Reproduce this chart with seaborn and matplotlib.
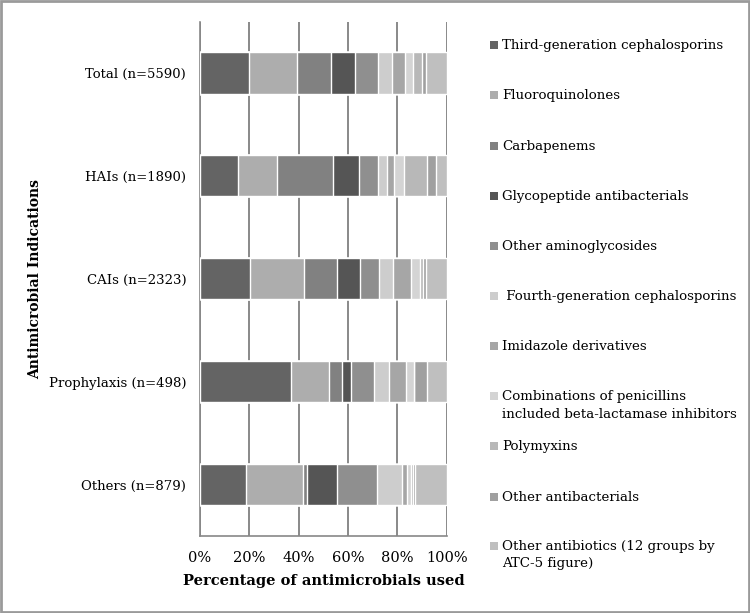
import numpy as np
import pandas as pd
import seaborn as sns
import matplotlib.pyplot as plt
from matplotlib.patches import Rectangle

# indications, top to bottom
groups = ['Total (n=5590)', 'HAIs (n=1890)', 'CAIs (n=2323)',
          'Prophylaxis (n=498)', 'Others (n=879)']

# percentages per antimicrobial class
third_gen = [19.9, 15.2, 20.4, 36.9, 18.6]
fluoroquin = [19.5, 16.0, 21.7, 15.3, 23.0]
carbapenems = [13.8, 22.7, 13.5, 5.5, 1.8]
glycopeptide = [9.8, 10.4, 9.1, 3.6, 12.1]
aminoglyc = [9.2, 7.9, 7.9, 9.2, 16.3]
fourth_gen = [5.7, 3.4, 5.7, 6.0, 10.2]
imidazole = [5.1, 3.1, 7.3, 7.2, 2.0]
combos = [3.4, 3.9, 3.5, 3.2, 1.4]
polymyxins = [3.4, 9.5, 1.2, 0.0, 0.9]
other_antibact = [2.0, 3.4, 1.3, 5.2, 0.7]
other_antibiot = [8.2, 4.5, 8.4, 7.9, 13.0]

labels = ['Third-generation cephalosporins', 'Fluoroquinolones', 'Carbapenems',
          'Glycopeptide antibacterials', 'Other aminoglycosides',
          ' Fourth-generation cephalosporins', 'Imidazole derivatives',
          'Combinations of penicillins\nincluded beta-lactamase inhibitors',
          'Polymyxins', 'Other antibacterials',
          'Other antibiotics (12 groups by\nATC-5 figure)']
colors = ['#646464', '#adadad', '#818181', '#555555', '#8f8f8f', '#cdcdcd',
          '#a6a6a6', '#d4d4d4', '#b8b8b8', '#a0a0a0', '#bfbfbf']

series = [third_gen, fluoroquin, carbapenems, glycopeptide, aminoglyc, fourth_gen,
          imidazole, combos, polymyxins, other_antibact, other_antibiot]

df = pd.DataFrame(np.array(series).T, columns=labels)
df.insert(0, 'group', groups)
cum = df[labels].cumsum(axis=1)

sns.set_theme(style='white')
plt.rcParams['font.family'] = ['DejaVu Serif']
plt.rcParams.update({'text.color': 'black', 'axes.labelcolor': 'black',
                     'xtick.color': 'black', 'ytick.color': 'black'})

fig = plt.figure(figsize=(7.5, 6.13), dpi=100)
ax = fig.add_axes([0.2667, 0.1256, 0.3289, 0.8393])

# stacked bars: draw cumulative totals from the widest down
for lab, col in reversed(list(zip(labels, colors))):
    sns.barplot(x=cum[lab], y=df['group'], color=col, orient='h', width=0.4,
                edgecolor='white', linewidth=1, errorbar=None, ax=ax, zorder=3)

ax.set_xlim(0, 100)
ax.set_ylim(4.5, -0.5)
ax.set_xticks(np.arange(0, 101, 20))
ax.set_xticklabels([f'{v}%' for v in range(0, 101, 20)], fontsize=10.5)
ax.set_yticks(range(len(groups)))
ax.set_yticklabels(groups, fontsize=9.5)
ax.set_yticks(np.arange(-0.5, 5, 1), minor=True)
ax.tick_params(axis='y', which='major', length=0, pad=10)
ax.tick_params(axis='y', which='minor', length=5, color='#888888', width=1.2)
ax.tick_params(axis='x', length=5, color='#888888', width=1.2, pad=6)
ax.grid(axis='x', color='#808080', linewidth=1.3, zorder=0)
for s in ['top', 'right']:
    ax.spines[s].set_visible(False)
for s in ['left', 'bottom']:
    ax.spines[s].set_color('#888888')
    ax.spines[s].set_linewidth(1.2)
ax.set_xlabel('Percentage of antimicrobials used', fontsize=10.5,
              fontweight='bold', labelpad=6)
ax.set_ylabel('Antimicrobial Indications', fontsize=10, fontweight='bold',
              labelpad=0)
ax.yaxis.set_label_coords(-0.64, 0.5)

# legend drawn by hand so each entry sits on its own row
W, H = 750, 613
rows_y = [45, 95, 146, 196, 246, 296, 346, 396, 446, 497, 546]
for lab, col, yy in zip(labels, colors, rows_y):
    fig.add_artist(Rectangle((490 / W, 1 - (yy + 4) / H), 8 / W, 8 / H,
                             transform=fig.transFigure, facecolor=col,
                             edgecolor='none'))
    fig.text(502 / W, 1 - (yy - 6) / H, lab, fontsize=9.6, va='top', ha='left',
             linespacing=1.45, transform=fig.transFigure)

fig.add_artist(Rectangle((0.001, 0.001), 0.998, 0.998, transform=fig.transFigure,
                         fill=False, edgecolor='#9a9a9a', linewidth=2))

fig.savefig('out.png', dpi=100)
